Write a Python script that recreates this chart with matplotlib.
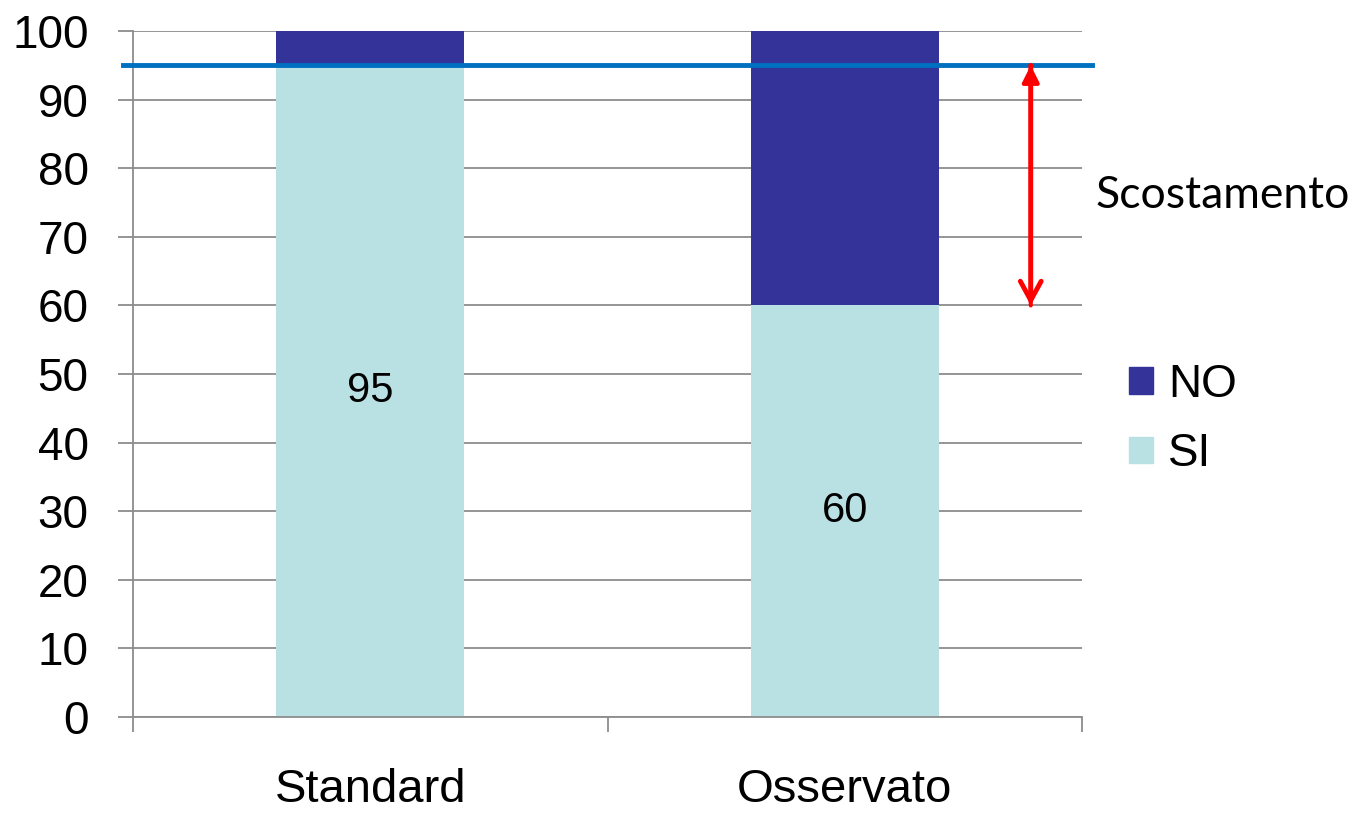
import matplotlib
matplotlib.use("Agg")
import matplotlib.pyplot as plt
from matplotlib.patches import Patch

categories = ["Standard", "Osservato"]
si_values = [95, 60]
no_values = [5, 40]
standard_line = 95
yticks = list(range(0, 101, 10))

SI_COLOR = "#B9E0E3"
NO_COLOR = "#333399"
LINE_COLOR = "#0070C0"
GRID_COLOR = "#8C8C8C"

fig = plt.figure(figsize=(13.57, 8.13), dpi=100)
ax = fig.add_axes([133/1357, 1-717/813, (1082-133)/1357, (717-31)/813])

x = list(range(len(categories)))
width = 0.396
ax.bar(x, si_values, width=width, color=SI_COLOR, zorder=2)
ax.bar(x, no_values, width=width, bottom=si_values, color=NO_COLOR, zorder=2)

for xi, v in zip(x, si_values):
    ax.text(xi, v/2, f"{v}", ha="center", va="center", fontsize=30,
            family="Liberation Sans", color="black", zorder=4)

ax.set_xlim(-0.5, 1.5)
ax.set_ylim(0, 100)
ax.set_yticks(yticks)
ax.yaxis.grid(True, color=GRID_COLOR, lw=1.3, zorder=0)
ax.set_axisbelow(True)
for s in ["top", "right"]:
    ax.spines[s].set_visible(False)
for s in ["left", "bottom"]:
    ax.spines[s].set_color(GRID_COLOR)
    ax.spines[s].set_linewidth(1.3)

ax.tick_params(axis="y", length=11, width=1.3, color=GRID_COLOR, pad=21,
               labelsize=33)
for lbl in ax.get_yticklabels():
    lbl.set_family("Liberation Sans")

ax.set_xticks(x)
ax.set_xticklabels(categories, fontsize=34, family="Liberation Sans")
ax.tick_params(axis="x", which="major", length=0, pad=37)
ax.set_xticks([-0.5, 0.5, 1.5], minor=True)
ax.tick_params(axis="x", which="minor", length=11, width=1.3, color=GRID_COLOR)

ax.axhline(standard_line, xmin=-0.0105, xmax=1.0105, color=LINE_COLOR, lw=3.5,
           zorder=3, clip_on=False)

arrow_x = 1.392
ax.annotate("", xy=(arrow_x, standard_line), xytext=(arrow_x, si_values[1]),
            arrowprops=dict(arrowstyle="-|>", color="red", lw=3,
                            mutation_scale=25, shrinkA=0, shrinkB=0),
            zorder=5, annotation_clip=False)
ax.annotate("", xy=(arrow_x, si_values[1]), xytext=(arrow_x, standard_line),
            arrowprops=dict(arrowstyle="->,head_length=0.55,head_width=0.3",
                            color="red", lw=3.5,
                            mutation_scale=25, shrinkA=0, shrinkB=0),
            zorder=5, annotation_clip=False)
ax.text(1.528, 76, "Scostamento", fontsize=32, family="Lato", ha="left",
        va="center", color="black", clip_on=False)

handles = [Patch(color=NO_COLOR, label="NO"), Patch(color=SI_COLOR, label="SI")]
leg = fig.legend(handles=handles, loc="upper left",
                 bbox_to_anchor=(1129/1357, 1-363/813),
                 frameon=False, prop={"family": "Liberation Sans", "size": 33},
                 handlelength=0.52, handleheight=0.52, handletextpad=0.33,
                 labelspacing=0.55, borderpad=0, borderaxespad=0)

fig.savefig("out.png", dpi=100)
